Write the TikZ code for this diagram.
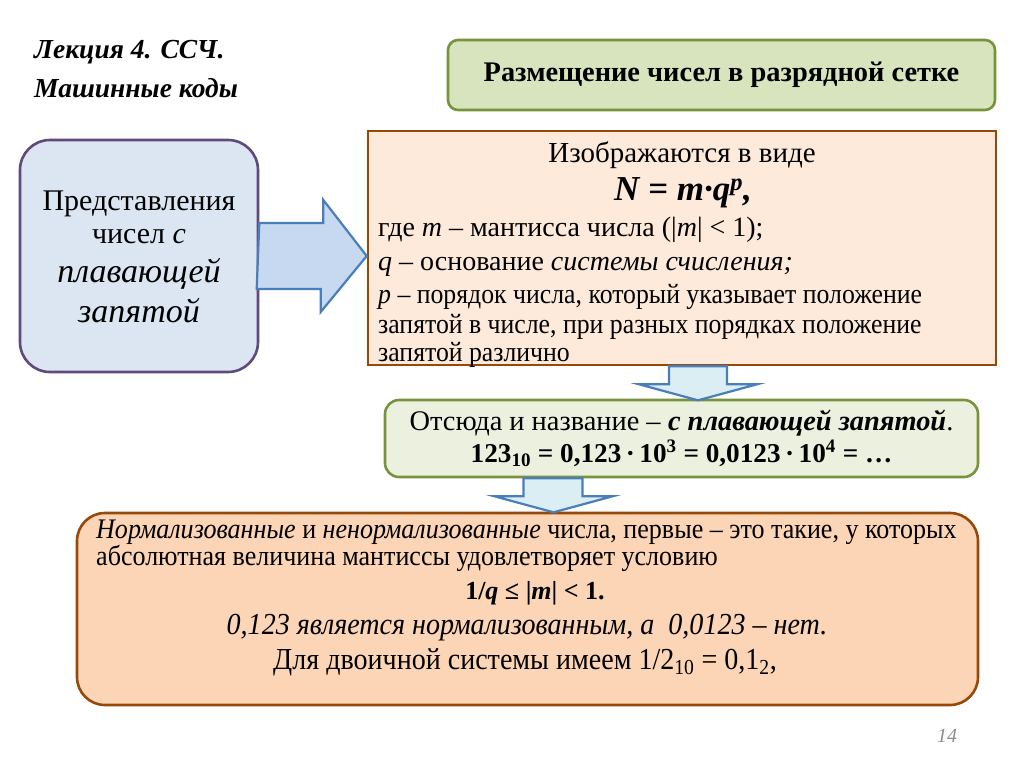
\documentclass[tikz,border=0pt]{standalone}
\usepackage{fontspec}
\setmainfont{Liberation Serif}
\newfontfamily\narrowfont[FakeStretch=0.92]{Liberation Serif}
\usepackage{tikz}
\usetikzlibrary{calc}

\definecolor{greenline}{HTML}{77933C}
\definecolor{headfill}{HTML}{D7E4BD}
\definecolor{calcfill}{HTML}{EBF1DE}
\definecolor{repline}{HTML}{604A7B}
\definecolor{repfill}{HTML}{DCE6F2}
\definecolor{brownline}{HTML}{984807}
\definecolor{formfill}{HTML}{FDEADA}
\definecolor{normfill}{HTML}{FBD5B5}
\definecolor{arrowline}{HTML}{4A7EBB}
\definecolor{arrowdark}{HTML}{C6D9F1}
\definecolor{arrowlight}{HTML}{DBEEF4}

\begin{document}
\begin{tikzpicture}[x=1pt,y=-1pt,
  box/.style={draw,line width=2.6pt,inner sep=0pt},
  txt/.style={inner sep=0pt},
  bluearrow/.style={draw=arrowline,fill=arrowlight,line width=2.2pt,line join=miter}]
  \useasboundingbox[fill=white] (0,0) rectangle (1024,768);

  % title
  \node[txt,anchor=base west,font=\fontsize{27.5}{30}\selectfont\bfseries\itshape] (title1) at (34,59) {Лекция 4. ССЧ.};
  \node[txt,anchor=base west,font=\fontsize{27.5}{30}\selectfont\bfseries\itshape] (title2) at (34,97) {Машинные коды};

  % boxes
  \node[box,draw=greenline,fill=headfill,rounded corners=10,minimum width=547,minimum height=70,
    font=\fontsize{28.4}{32}\selectfont\bfseries] (head) at (721.5,75) {Размещение чисел в разрядной сетке};
  \node[box,draw=repline,fill=repfill,rounded corners=30,minimum width=238,minimum height=232] (rep) at (139,256) {};
  \node[box,draw=brownline,fill=formfill,minimum width=628,minimum height=234] (form) at (682,248) {};
  \node[box,draw=greenline,fill=calcfill,rounded corners=14,minimum width=593,minimum height=77] (calc) at (681.5,438.5) {};
  \node[box,draw=brownline,fill=normfill,rounded corners=28,minimum width=901,minimum height=192] (norm) at (527.5,609) {};

  % arrows
  \draw[bluearrow,fill=arrowdark] (rep.east) ++(0,-33) -- ++(64,0) -- ++(0,-23) -- (rep.east -| form.west)
    -- ++(-46,56) -- ++(0,-23) -- ++(-64,0) -- cycle;
  \draw[bluearrow] (form.south) ++(-13,0) -- ++(58,0) -- ++(0,18) -- ++(30,0) -- ++(-59,16)
    -- ++(-59,-16) -- ++(30,0) -- cycle;
  \draw[bluearrow] (calc.south) ++(-158,0) -- ++(59,0) -- ++(0,18) -- ++(30,0) -- ++(-59,16)
    -- ++(-59,-16) -- ++(29,0) -- cycle;

  % left box
  \node[txt,anchor=base,font=\fontsize{30}{34}\selectfont] (rep1) at (139,210) {Представления};
  \node[txt,anchor=base,font=\fontsize{30}{34}\selectfont] (rep2) at (139,243) {чисел \textit{с}};
  \node[txt,anchor=base,font=\fontsize{34}{38}\selectfont\itshape] (rep3) at (139,282) {плавающей};
  \node[txt,anchor=base,font=\fontsize{34}{38}\selectfont\itshape] (rep4) at (139,322) {запятой};

  % upper orange box
  \node[txt,anchor=base,font=\fontsize{29}{32}\selectfont] (form1) at (682,162) {Изображаются в виде};
  \node[txt,anchor=base,font=\fontsize{35}{38}\selectfont\bfseries\itshape] (form2) at (683,200)
    {N = m·q\textsuperscript{p},};
  \node[txt,anchor=base west,font=\fontsize{28}{32}\selectfont] (form3) at (378,236)
    {где \textit{m} – мантисса числа (|\textit{m}| < 1);};
  \node[txt,anchor=base west,font=\fontsize{28}{32}\selectfont] (form4) at (378,270)
    {\textit{q} – основание \textit{системы счисления;}};
  \node[txt,anchor=base west,font=\fontsize{28}{32}\narrowfont] (form5) at (378,303)
    {\textit{p} – порядок числа, который указывает положение};
  \node[txt,anchor=base west,font=\fontsize{28}{32}\narrowfont] (form6) at (378,333)
    {запятой в числе, при разных порядках положение};
  \node[txt,anchor=base west,font=\fontsize{28}{32}\narrowfont] (form7) at (378,361) {запятой различно};

  % green box
  \node[txt,anchor=base,font=\fontsize{28.4}{32}\selectfont] (calc1) at (681.5,430)
    {Отсюда и название – \textbf{\textit{с плавающей запятой}}.};
  \node[txt,anchor=base,font=\fontsize{27.2}{30}\selectfont\bfseries] (calc2) at (681.5,462)
    {123\textsubscript{10} = 0,123\,·\,10\textsuperscript{3} = 0,0123\,·\,10\textsuperscript{4} = …};

  % lower orange box
  \node[txt,anchor=base west,font=\fontsize{28.3}{32}\narrowfont] (norm1) at (96,538)
    {\textit{Нормализованные} и \textit{ненормализованные} числа, первые – это такие, у которых};
  \node[txt,anchor=base west,font=\fontsize{28.3}{32}\narrowfont] (norm2) at (96,565)
    {абсолютная величина мантиссы удовлетворяет условию};
  \node[txt,anchor=base,font=\fontsize{26}{30}\selectfont\bfseries] (norm3) at (535,599)
    {1/\textit{q} ≤ |\textit{m}| < 1.};
  \node[txt,anchor=base,font=\fontsize{30.5}{34}\narrowfont\itshape] (norm4) at (527,634)
    {0,123 является нормализованным, а\ \ 0,0123 – нет.};
  \node[txt,anchor=base,font=\fontsize{30.5}{34}\narrowfont] (norm5) at (525,669)
    {Для двоичной системы имеем 1/2\textsubscript{10} = 0,1\textsubscript{2},};

  % page number
  \node[txt,anchor=base,font=\fontsize{20}{22}\selectfont\itshape,text=black!45] (page) at (947,742) {14};
\end{tikzpicture}
\end{document}
